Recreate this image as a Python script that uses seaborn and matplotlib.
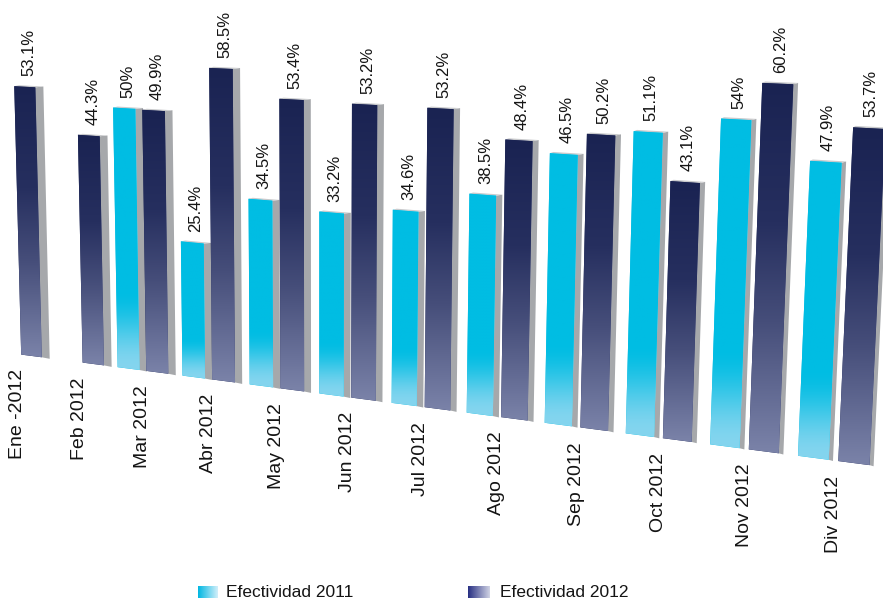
import numpy as np
import pandas as pd
import matplotlib
matplotlib.use("Agg")
import matplotlib.pyplot as plt
import matplotlib.transforms as mtransforms
from matplotlib.patches import Polygon
from matplotlib.colors import to_rgb
import seaborn as sns

# ---- data -------------------------------------------------------------
meses = ["Ene -2012", "Feb 2012", "Mar 2012", "Abr 2012", "May 2012", "Jun 2012",
         "Jul 2012", "Ago 2012", "Sep 2012", "Oct 2012", "Nov 2012", "Div 2012"]
efectividad_2011 = [np.nan, np.nan, 50.0, 25.4, 34.5, 33.2, 34.6, 38.5, 46.5, 51.1, 54.0, 47.9]
efectividad_2012 = [53.1, 44.3, 49.9, 58.5, 53.4, 53.2, 53.2, 48.4, 50.2, 43.1, 60.2, 53.7]
series = ["Efectividad 2011", "Efectividad 2012"]

df = pd.concat([
    pd.DataFrame({"mes": meses, "serie": series[0], "valor": efectividad_2011}),
    pd.DataFrame({"mes": meses, "serie": series[1], "valor": efectividad_2012}),
]).dropna()

# ---- style ------------------------------------------------------------
sns.set_style("white")
plt.rcParams["font.family"] = ["Liberation Sans", "DejaVu Sans"]
TEXT = "#141414"
CYAN, CYAN_LIGHT = "#00bde3", "#84d5ef"
NAVY_STOPS = [(0.0, "#7a82a8"), (0.35, "#464e7a"), (0.62, "#262f5f"), (1.0, "#1a2352")]
SIDE, TOP = "#a6a8ab", "#c9cacc"


class Perspective(mtransforms.Transform):
    """Tilted view of the (category, value) plane onto canvas pixels (y down)."""
    input_dims = output_dims = 2
    is_separable = False
    has_inverse = False

    A, B, C = 59.984, 18.0, -0.016979     # category -> horizontal position
    U0 = 32.0
    S0, S1 = 5.07, 0.00142                # pixels per percentage point
    K0, K1 = -0.0248, 0.0000859           # lean of the verticals
    V0, V1 = 356.0, 0.1303                # floor line

    def transform_non_affine(self, values):
        values = np.asarray(values, dtype=float).reshape(-1, 2)
        x, y = values[:, 0], values[:, 1]
        g = (self.A * x + self.B) / (1.0 + self.C * x)
        h = y * (self.S0 + self.S1 * (g - self.U0))
        u = g + (self.K0 + self.K1 * (g - self.U0)) * h
        v = self.V0 + self.V1 * (g - self.U0) - h
        return np.column_stack([u, v])


fig = plt.figure(figsize=(8.83, 6.01), dpi=100)
ax = fig.add_axes([0, 0, 1, 1])

palette = {series[0]: CYAN, series[1]: NAVY_STOPS[-1][1]}
sns.barplot(data=df, x="mes", y="valor", hue="serie", order=meses, hue_order=series,
            palette=palette, width=0.89, gap=0.236, saturation=1, errorbar=None,
            legend=False, ax=ax)

persp = Perspective()
warp = persp + ax.transData


def grad_2011(t):
    k = np.clip(t / 0.3, 0, 1)
    k = k * k * (3 - 2 * k)
    a, b = np.array(to_rgb(CYAN_LIGHT)), np.array(to_rgb(CYAN))
    return a[None, :] * (1 - k[:, None]) + b[None, :] * k[:, None]


def grad_2012(t):
    pos = [p for p, _ in NAVY_STOPS]
    cols = np.array([to_rgb(c) for _, c in NAVY_STOPS])
    return np.column_stack([np.interp(t, pos, cols[:, i]) for i in range(3)])


cyan_rgb = np.array(to_rgb(CYAN))
bars = []
for cont in ax.containers:
    for p in cont.patches:
        if not np.isfinite(p.get_height()):
            continue
        is_2011 = np.allclose(p.get_facecolor()[:3], cyan_rgb, atol=0.02)
        bars.append((p, is_2011))

for p, is_2011 in bars:
    x0, w, h = p.get_x(), p.get_width(), p.get_height()
    xr = x0 + w
    xc = x0 + w / 2
    d = 0.13 - 0.0077 * xc      # visible depth of the side face

    # side and top faces
    side = Polygon([(xr, 0), (xr + d, -0.1), (xr + d, h + 0.25), (xr, h)], closed=True,
                   facecolor=SIDE, edgecolor="none", transform=warp, zorder=1.8)
    top = Polygon([(x0, h), (xr, h), (xr + d, h + 0.25), (x0 + d * 0.6, h + 0.25)], closed=True,
                  facecolor=TOP, edgecolor="none", transform=warp, zorder=1.8)
    ax.add_patch(side)
    ax.add_patch(top)

    # front face with vertical gradient
    p.set_transform(warp)
    p.set_edgecolor("none")
    p.set_zorder(2)
    corners = persp.transform(np.array([[x0, 0], [xr, 0], [x0, h], [xr, h]]))
    umin, umax = corners[:, 0].min() - 1, corners[:, 0].max() + 1
    vmin, vmax = corners[:, 1].min() - 1, corners[:, 1].max() + 1
    vb = persp.transform(np.array([[xc, 0]]))[0, 1]
    vt = persp.transform(np.array([[xc, h]]))[0, 1]
    rows = np.linspace(vmin, vmax, 300)
    t = np.clip((vb - rows) / (vb - vt), 0, 1)
    rgb = grad_2011(t) if is_2011 else grad_2012(t)
    img = np.repeat(rgb[:, None, :], 2, axis=1)
    im = ax.imshow(img, extent=(umin, umax, vmax, vmin), origin="upper",
                   aspect="auto", interpolation="bilinear", zorder=2.1)
    im.set_clip_path(p.get_path(), p.get_transform())

    # value label
    ax.annotate(f"{h:g}%", xy=(xc + d / 2, h + 0.25), xycoords=warp,
                xytext=(0, 6.8), textcoords="offset points", rotation=90,
                ha="center", va="bottom", fontsize=12, color=TEXT)

# month labels under each group
for i, mes in enumerate(meses):
    ax.annotate(mes, xy=(i, 0), xycoords=warp, xytext=(0, -10.8),
                textcoords="offset points", rotation=90, ha="center", va="top",
                fontsize=14, color=TEXT)

# legend with gradient swatches
legend_items = [
    (series[0], (198, 218), "#00b7e2", "#d2effa", 226),
    (series[1], (468, 490), "#283083", "#d0d3e4", 500),
]
for label, (l, r), c0, c1, tx in legend_items:
    k = np.linspace(0, 1, 64)[:, None]
    sw = np.array(to_rgb(c0))[None, :] * (1 - k) + np.array(to_rgb(c1))[None, :] * k
    ax.imshow(sw[None, :, :], extent=(l, r, 598, 586), aspect="auto",
              interpolation="bilinear", zorder=3)
    ax.text(tx, 592.5, label, ha="left", va="center", fontsize=12.5, color=TEXT)

ax.set_xlim(0, 883)
ax.set_ylim(601, 0)
ax.axis("off")
fig.savefig("out.png", dpi=100, facecolor="white")
